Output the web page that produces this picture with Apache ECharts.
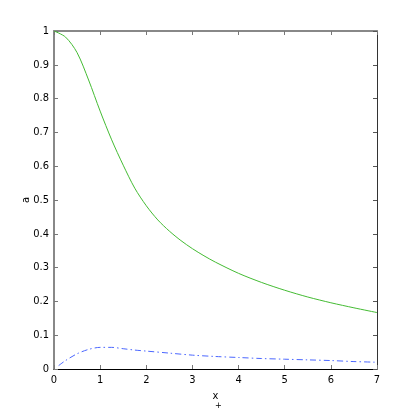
<!DOCTYPE html>
<html>
<head>
<meta charset="utf-8">
<script src="https://cdn.jsdelivr.net/npm/echarts@6/dist/echarts.min.js"></script>
<style>
  html, body { margin: 0; padding: 0; background: #fff; }
  #chart { width: 415px; height: 415px; }
</style>
</head>
<body>
<div id="chart"></div>
<script>
// green curve (solid)
const greenX = [0, 0.25, 0.5, 0.75, 1, 1.25, 1.5, 1.75, 2, 2.25, 2.5, 2.75, 3, 3.25, 3.5, 4, 4.5, 5, 5.5, 6, 6.5, 7]
const greenY = [1.0, 0.982, 0.936, 0.855, 0.763, 0.678, 0.603, 0.535, 0.483, 0.441, 0.408, 0.380, 0.356, 0.335, 0.316, 0.283, 0.256, 0.233, 0.213, 0.196, 0.181, 0.167]
// blue curve (dash-dot)
const blueX = [0.1, 0.25, 0.5, 0.75, 1, 1.25, 1.5, 1.75, 2, 2.5, 3, 3.5, 4, 4.5, 5, 5.5, 6, 6.5, 7]
const blueY = [0.010, 0.025, 0.045, 0.058, 0.064, 0.064, 0.060, 0.056, 0.053, 0.047, 0.041, 0.037, 0.034, 0.031, 0.029, 0.027, 0.025, 0.022, 0.020]

const xTicks = ['0', '1', '2', '3', '4', '5', '6', '7']
const yTicks = ['0', '0.1', '0.2', '0.3', '0.4', '0.5', '0.6', '0.7', '0.8', '0.9', '1']

const font = 'Liberation Sans Narrow, DejaVu Sans Condensed, sans-serif'
const chart = echarts.init(document.getElementById('chart'))

const tick = (color) => ({ show: true, inside: true, length: 4, lineStyle: { color: color, width: 1 } })

chart.setOption({
  animation: false,
  grid: { left: 54, right: 38, top: 31, bottom: 46 },
  xAxis: [
    {
      type: 'value', min: 0, max: 7, interval: 1, position: 'bottom',
      name: '{x|x}\n{s|+}', nameLocation: 'middle', nameGap: 20,
      nameTextStyle: {
        rich: {
          x: { fontFamily: font, fontSize: 11, color: '#000', lineHeight: 10 },
          s: { fontFamily: font, fontSize: 9, color: '#000', padding: [0, 0, 0, 6], lineHeight: 8 }
        }
      },
      axisLine: { show: true, onZero: false, lineStyle: { color: '#000', width: 1 } },
      axisTick: tick('#777'),
      splitLine: { show: false },
      axisLabel: { fontFamily: font, fontSize: 11, color: '#000', margin: 6,
        formatter: (v) => xTicks[Math.round(v)] }
    },
    {
      type: 'value', min: 0, max: 7, interval: 1, position: 'top',
      axisLine: { show: true, onZero: false, lineStyle: { color: '#888', width: 2 } },
      axisTick: tick('#777'),
      axisLabel: { show: false },
      splitLine: { show: false }
    }
  ],
  yAxis: [
    {
      type: 'value', min: 0, max: 1, interval: 0.1, position: 'left',
      name: 'a', nameLocation: 'middle', nameGap: 22, nameRotate: 90,
      nameMoveOverlap: false,
      nameTextStyle: { fontFamily: font, fontSize: 11, color: '#000' },
      axisLine: { show: true, onZero: false, lineStyle: { color: '#888', width: 2 } },
      axisTick: tick('#777'),
      splitLine: { show: false },
      axisLabel: { fontFamily: font, fontSize: 11, color: '#000', margin: 5,
        formatter: (v) => yTicks[Math.round(v * 10)] }
    },
    {
      type: 'value', min: 0, max: 1, interval: 0.1, position: 'right',
      axisLine: { show: true, onZero: false, lineStyle: { color: '#333', width: 1 } },
      axisTick: tick('#555'),
      axisLabel: { show: false },
      splitLine: { show: false }
    }
  ],
  series: [
    {
      type: 'line', smooth: 0.3, showSymbol: false,
      data: greenX.map((x, i) => [x, greenY[i]]),
      lineStyle: { color: '#44bb33', width: 1 }
    },
    {
      type: 'line', smooth: 0.3, showSymbol: false,
      data: blueX.map((x, i) => [x, blueY[i]]),
      lineStyle: { color: '#4a66ff', width: 1, type: [6, 3, 1.5, 3] }
    }
  ]
})
</script>
</body>
</html>
